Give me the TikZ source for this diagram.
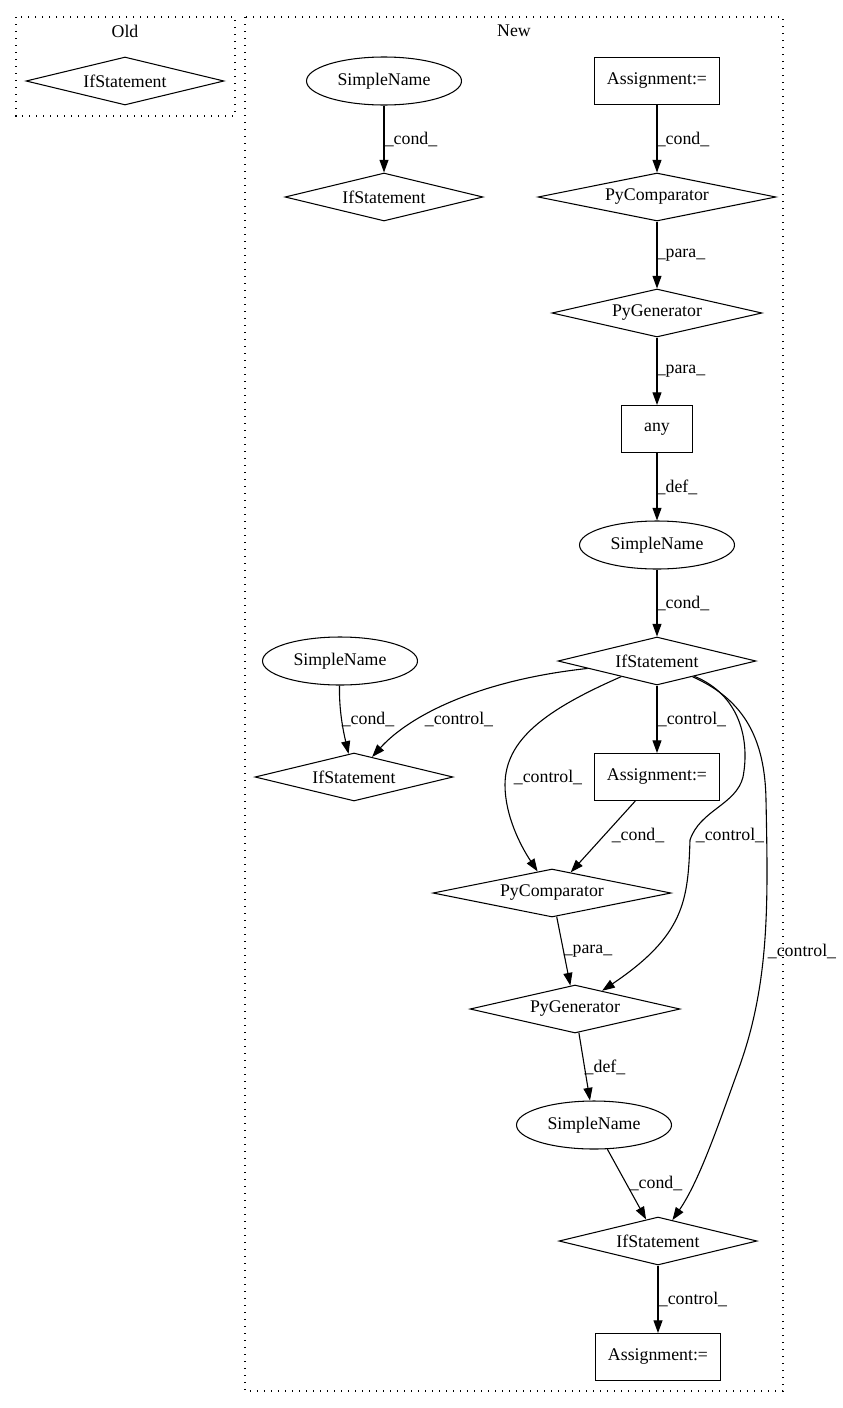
\documentclass[tikz,border=0pt]{standalone}
\usepackage{fontspec}
\setmainfont{Liberation Serif}
\usetikzlibrary{shapes.geometric,arrows.meta}
\begin{document}
\begin{tikzpicture}[x=1pt,y=-1pt,
  font=\fontsize{17.8}{21.4}\selectfont,
  every node/.style={inner sep=0pt},
  dia/.style={shape=diamond, draw, line width=1.05pt, shape aspect=4, minimum height=48pt},
  ell/.style={ellipse, draw, line width=1.05pt, minimum width=155pt, minimum height=48pt},
  box/.style={rectangle, draw, line width=1pt, minimum width=125pt, minimum height=47pt},
  edge/.style={draw, line width=1.1pt, -{Triangle[length=12.7pt,width=9pt]}},
  lbl/.style={inner sep=0pt},
  cluster/.style={draw, line width=1.3pt, dash pattern=on 1.3pt off 5.7pt}
]
\useasboundingbox (0,0) rectangle (843,1408);
% clusters
\draw[cluster] (16,17) rectangle (235,116);
\node (oldlbl) at (125,31) {Old};
\draw[cluster] (245,17) rectangle (783,1391);
\node (newlbl) at (514,31) {New};
% nodes
\node[dia, minimum width=198pt] (oif) at (125,81) {IfStatement};
\node[ell] (sn1) at (384,81) {SimpleName};
\node[dia, minimum width=198pt] (if2) at (384,197) {IfStatement};
\node[box] (a1) at (657,81) {Assignment:=};
\node[dia, minimum width=238pt] (pc1) at (657,197) {PyComparator};
\node[dia, minimum width=210pt] (pg1) at (657,313) {PyGenerator};
\node[box, minimum width=71pt] (any) at (657,429) {any};
\node[ell] (sn2) at (657,545) {SimpleName};
\node[dia, minimum width=198pt] (if3) at (657,661) {IfStatement};
\node[ell] (sn3) at (340,661) {SimpleName};
\node[dia, minimum width=198pt] (if4) at (354,777) {IfStatement};
\node[box] (a2) at (657,777) {Assignment:=};
\node[dia, minimum width=238pt] (pc2) at (552,893) {PyComparator};
\node[dia, minimum width=210pt] (pg2) at (575,1009) {PyGenerator};
\node[ell] (sn4) at (594,1125) {SimpleName};
\node[dia, minimum width=198pt] (if5) at (658,1241) {IfStatement};
\node[box] (a3) at (658,1357) {Assignment:=};
% edges
\draw[edge] (sn1) -- (if2);
\draw[edge] (a1) -- (pc1);
\draw[edge] (pc1) -- (pg1);
\draw[edge] (pg1) -- (any);
\draw[edge] (any) -- (sn2);
\draw[edge] (sn2) -- (if3);
\draw[edge] (sn3) .. controls (339,710) and (343,730) .. (if4);
\draw[edge] (if3) .. controls (480,680) and (410,715) .. (if4);
\draw[edge] (if3) -- (a2);
\draw[edge] (if3) .. controls (545,710) and (505,740) .. (505,785) .. controls (505,815) and (520,845) .. (pc2);
\draw[edge] (a2) -- (pc2);
\draw[edge] (if3) .. controls (740,695) and (750,740) .. (743,777) .. controls (736,805) and (700,810) .. (690,840) .. controls (688,900) and (685,935) .. (pg2);
\draw[edge] (if3) .. controls (745,700) and (765,740) .. (766,800) .. controls (768,900) and (770,980) .. (740,1065) .. controls (720,1120) and (700,1180) .. (if5);
\draw[edge] (pc2) -- (pg2);
\draw[edge] (pg2) -- (sn4);
\draw[edge] (sn4) -- (if5);
\draw[edge] (if5) -- (a3);
% labels
\node[lbl] (l1) at (411,139) {\_cond\_};
\node[lbl] (l2) at (683,139) {\_cond\_};
\node[lbl] (l3) at (681,255) {\_para\_};
\node[lbl] (l4) at (681,371) {\_para\_};
\node[lbl] (l5) at (677,487) {\_def\_};
\node[lbl] (l6) at (683,603) {\_cond\_};
\node[lbl] (l7) at (368,719) {\_cond\_};
\node[lbl] (l8) at (459,719) {\_control\_};
\node[lbl] (l9) at (692,719) {\_control\_};
\node[lbl] (l10) at (548,777) {\_control\_};
\node[lbl] (l11) at (638,835) {\_cond\_};
\node[lbl] (l12) at (730,835) {\_control\_};
\node[lbl] (l13) at (588,951) {\_para\_};
\node[lbl] (l14) at (802,951) {\_control\_};
\node[lbl] (l15) at (605,1067) {\_def\_};
\node[lbl] (l16) at (656,1183) {\_cond\_};
\node[lbl] (l17) at (693,1299) {\_control\_};
\end{tikzpicture}
\end{document}
